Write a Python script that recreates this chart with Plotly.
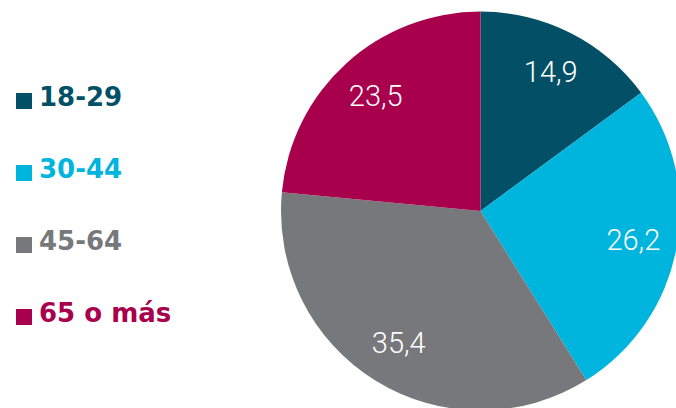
import plotly.graph_objects as go

categories = ["18-29", "30-44", "45-64", "65 o más"]
values = [14.9, 26.2, 35.4, 23.5]
colors = ["#034F66", "#00B5DD", "#77787B", "#A8004C"]

W, H = 684, 414
OFF = 0  # page body margin removed below

# pie geometry in window pixels
cx, cy, R = 480.5, 211.0, 199.5
dom_x = [(cx - R - OFF) / W, (cx + R - OFF) / W]
dom_y = [1 - (cy + R - OFF) / H, 1 - (cy - R - OFF) / H]

fig = go.Figure()
fig.add_trace(go.Pie(
    labels=categories,
    values=values,
    sort=False,
    direction="clockwise",
    rotation=0,
    marker=dict(colors=colors, line=dict(width=0)),
    textinfo="none",
    hoverinfo="label+value",
    showlegend=False,
    domain=dict(x=dom_x, y=dom_y),
))
# transparent ring used only to place the value labels
fig.add_trace(go.Pie(
    labels=categories,
    values=values,
    sort=False,
    direction="clockwise",
    rotation=0,
    hole=0.56,
    marker=dict(colors=["rgba(0,0,0,0)"] * 4, line=dict(width=0)),
    texttemplate="%{value:.1f}",
    textposition="inside",
    insidetextorientation="horizontal",
    textfont=dict(family="Roboto", size=29, color="white", weight=300),
    hoverinfo="skip",
    showlegend=False,
    domain=dict(x=dom_x, y=dom_y),
))

# custom legend (squares + bold coloured labels)
legend_y = [97, 169, 241, 313]
shapes = []
annotations = []
for cat, col, yc in zip(categories, colors, legend_y):
    shapes.append(dict(type="rect", xref="paper", yref="paper",
                       x0=(16 - OFF) / W, x1=(32 - OFF) / W,
                       y0=1 - (yc + 12 - OFF) / H, y1=1 - (yc - 4 - OFF) / H,
                       fillcolor=col, line=dict(width=0)))
    annotations.append(dict(text=f"<b>{cat}</b>", xref="paper", yref="paper",
                            x=(37 - OFF) / W, y=1 - (yc - OFF) / H,
                            xanchor="left", yanchor="middle",
                            showarrow=False,
                            font=dict(family="DejaVu Sans", size=26, color=col)))

fig.update_layout(
    width=W, height=H,
    margin=dict(l=0, r=0, t=0, b=0),
    paper_bgcolor="white",
    plot_bgcolor="white",
    separators=",.",
    shapes=shapes,
    annotations=annotations,
)

fig.write_html(
    "out.html",
    config={"displayModeBar": False},
    post_script="document.body.style.margin='0px';"
                "document.documentElement.style.overflow='hidden';"
                "document.body.style.overflow='hidden';",
)
